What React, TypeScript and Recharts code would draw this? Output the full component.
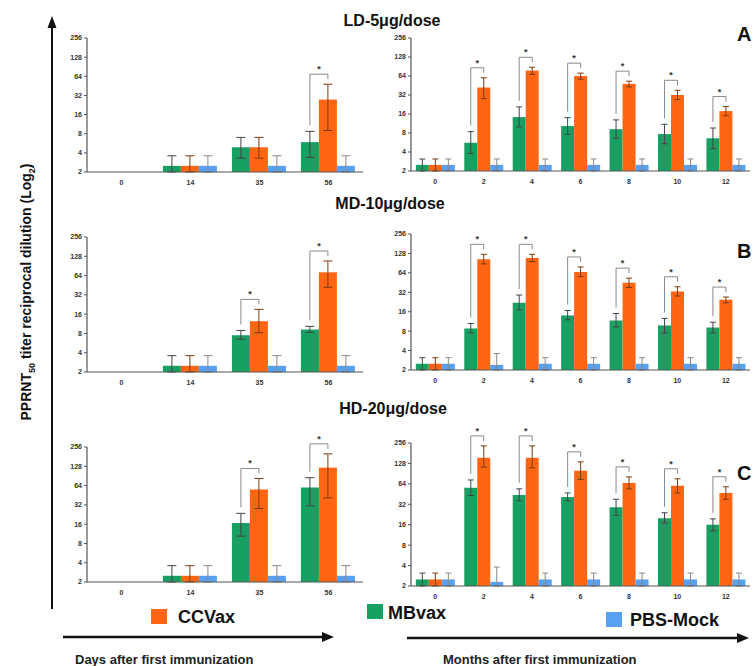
import React from 'react';
import { BarChart, Bar, XAxis, YAxis, ErrorBar } from 'recharts';

const dayCats = ['0', '14', '35', '56'];
const monthCats = ['0', '2', '4', '6', '8', '10', '12'];
const log2Ticks = [2, 4, 8, 16, 32, 64, 128, 256];

// LD-5ug/dose, days
const ldDayMB = [null, 2.5, 4.9, 5.9];
const ldDayMBErr = [null, [2, 3.6], [3.3, 7], [3.4, 8.7]];
const ldDayCC = [null, 2.5, 4.9, 27.5];
const ldDayCCErr = [null, [2, 3.6], [3.3, 7], [9, 48]];
const ldDayPBS = [null, 2.5, 2.5, 2.5];
const ldDayPBSErr = [null, [2, 3.6], [2, 3.6], [2, 3.6]];
const ldDaySig = [false, false, false, true];

// LD-5ug/dose, months
const ldMonMB = [2.5, 5.6, 14.3, 10.3, 9.2, 7.7, 6.6];
const ldMonMBErr = [[2, 3.1], [3.8, 8.4], [10, 20.7], [7.6, 14], [6.6, 12.9], [5.4, 11], [4.5, 9.6]];
const ldMonCC = [2.5, 42, 78, 64, 48, 32, 17.8];
const ldMonCCErr = [[2, 3.1], [28, 60], [68, 88], [57, 71], [43, 53], [27, 38], [15, 21]];
const ldMonPBS = [2.5, 2.5, 2.5, 2.5, 2.5, 2.5, 2.5];
const ldMonPBSErr = [[2, 3.1], [2, 3.1], [2, 3.1], [2, 3.1], [2, 3.1], [2, 3.1], [2, 3.1]];
const ldMonSig = [false, true, true, true, true, true, true];

// MD-10ug/dose, days
const mdDayMB = [null, 2.5, 7.5, 9.2];
const mdDayMBErr = [null, [2, 3.6], [6.5, 8.9], [8.3, 10.3]];
const mdDayCC = [null, 2.5, 12.4, 72];
const mdDayCCErr = [null, [2, 3.6], [8.2, 19], [42, 108]];
const mdDayPBS = [null, 2.5, 2.5, 2.5];
const mdDayPBSErr = [null, [2, 3.6], [2, 3.6], [2, 3.6]];
const mdDaySig = [false, false, true, true];

// MD-10ug/dose, months
const mdMonMB = [2.5, 8.8, 22, 14, 11.7, 9.8, 9.1];
const mdMonMBErr = [[2, 3.1], [7.5, 10.5], [17, 29], [12, 16.7], [9.3, 15], [7.5, 12.6], [7.5, 11]];
const mdMonCC = [2.5, 104, 109, 66, 45, 33, 24.6];
const mdMonCCErr = [[2, 3.1], [88, 124], [96, 124], [56, 79], [38, 53], [28, 39], [22, 27]];
const mdMonPBS = [2.5, 2.4, 2.5, 2.5, 2.5, 2.5, 2.5];
const mdMonPBSErr = [[2, 3.1], [2, 3.6], [2, 3.1], [2, 3.1], [2, 3.1], [2, 3.1], [2, 3.1]];
const mdMonSig = [false, true, true, true, true, true, true];

// HD-20ug/dose, days
const hdDayMB = [null, 2.5, 16.6, 59.6];
const hdDayMBErr = [null, [2, 3.6], [10.4, 23.6], [31, 85]];
const hdDayCC = [null, 2.5, 55.6, 122];
const hdDayCCErr = [null, [2, 3.6], [28, 82.6], [41, 200]];
const hdDayPBS = [null, 2.5, 2.5, 2.5];
const hdDayPBSErr = [null, [2, 3.6], [2, 3.6], [2, 3.6]];
const hdDaySig = [false, false, true, true];

// HD-20ug/dose, months
const hdMonMB = [2.5, 56, 44, 41, 29, 20, 16];
const hdMonMBErr = [[2, 3.1], [43, 73], [36, 54], [36, 47], [22, 38], [17, 24], [13, 19.5]];
const hdMonCC = [2.5, 155, 155, 100, 66, 60, 47];
const hdMonCCErr = [[2, 3.1], [113, 232], [110, 232], [74, 135], [54, 81], [47, 76], [38, 58]];
const hdMonPBS = [2.5, 2.3, 2.5, 2.5, 2.5, 2.5, 2.5];
const hdMonPBSErr = [[2, 3.1], [2, 3.8], [2, 3.1], [2, 3.1], [2, 3.1], [2, 3.1], [2, 3.1]];
const hdMonSig = [false, true, true, true, true, true, true];

const GREEN = '#17a062';
const ORANGE = '#ff6614';
const BLUE = '#57a0f2';
const FONT = 'Arial, "Liberation Sans", sans-serif';

const delta = (v: any, r: any) => (v == null || !r ? null : [v - r[0], r[1] - v]);

function buildRows(cats: string[], mb: any[], mbErr: any[], cc: any[], ccErr: any[], pbs: any[], pbsErr: any[], sig: boolean[]) {
  return cats.map((c, i) => ({
    cat: c,
    mb: mb[i],
    cc: cc[i],
    pbs: pbs[i],
    mbE: delta(mb[i], mbErr[i]),
    ccE: delta(cc[i], ccErr[i]),
    pbsE: delta(pbs[i], pbsErr[i]),
    mbHi: mbErr[i] ? mbErr[i][1] : null,
    ccHi: ccErr[i] ? ccErr[i][1] : null,
    sig: sig[i],
  }));
}

// orange bar + the significance bracket between green and orange
const CCShape = (props: any) => {
  const { x, y, width, height, payload, fill } = props;
  const rect = <rect x={x} y={y} width={width} height={height} fill={fill} />;
  if (!payload || !payload.sig || !(height > 0)) return rect;
  const base = y + height;
  const ppu = height / Math.log2(payload.cc / 2);
  const toY = (v: number) => base - ppu * Math.log2(v / 2);
  const top = toY(payload.ccHi) - 10;
  const lx = x - width / 2;
  const rx = x + width / 2;
  const lBottom = toY(payload.mbHi) - 6;
  return (
    <g>
      {rect}
      <path d={`M${lx},${lBottom} L${lx},${top} L${rx},${top} L${rx},${top + 5}`} stroke="#8a8a8a" strokeWidth={1} fill="none" />
      <text x={(lx + rx) / 2} y={top - 2} textAnchor="middle" fontSize={9} fontWeight="bold" fill="#333" fontFamily={FONT}>*</text>
    </g>
  );
};

type PanelProps = { rows: any[]; box: number[]; cap: number };

const Panel: React.FC<PanelProps> = ({ rows, box, cap }) => {
  const [x1, y1, x2, y2] = box;
  const width = x2 - x1 + 50;
  const height = y2 - y1 + 54;
  return (
    <div style={{ position: 'absolute', left: x1 - 45, top: y1 - 30 }}>
      <BarChart width={width} height={height} data={rows} margin={{ top: 30, right: 5, bottom: 4, left: 15 }} barGap={0} barCategoryGap="10%">
        <XAxis dataKey="cat" height={20} interval={0} tickLine={false} tickSize={6}
          axisLine={{ stroke: '#555', strokeWidth: 1.2 }}
          tick={{ fontSize: 7, fill: '#333', fontWeight: 'bold', fontFamily: FONT }} />
        <YAxis type="number" scale="log" domain={[2, 256]} ticks={log2Ticks} interval={0} width={30} tickSize={3}
          axisLine={{ stroke: '#555', strokeWidth: 1.2 }} tickLine={{ stroke: '#555' }}
          tick={{ fontSize: 7, fill: '#333', fontWeight: 'bold', fontFamily: FONT }} />
        <Bar dataKey="mb" fill={GREEN} isAnimationActive={false}>
          <ErrorBar dataKey="mbE" width={cap} stroke="#444" strokeWidth={1} />
        </Bar>
        <Bar dataKey="cc" fill={ORANGE} shape={CCShape} isAnimationActive={false}>
          <ErrorBar dataKey="ccE" width={cap} stroke="#7a3a10" strokeWidth={1} />
        </Bar>
        <Bar dataKey="pbs" fill={BLUE} isAnimationActive={false}>
          <ErrorBar dataKey="pbsE" width={cap} stroke="#888" strokeWidth={1} />
        </Bar>
      </BarChart>
    </div>
  );
};

const ldDayRows = buildRows(dayCats, ldDayMB, ldDayMBErr, ldDayCC, ldDayCCErr, ldDayPBS, ldDayPBSErr, ldDaySig);
const ldMonRows = buildRows(monthCats, ldMonMB, ldMonMBErr, ldMonCC, ldMonCCErr, ldMonPBS, ldMonPBSErr, ldMonSig);
const mdDayRows = buildRows(dayCats, mdDayMB, mdDayMBErr, mdDayCC, mdDayCCErr, mdDayPBS, mdDayPBSErr, mdDaySig);
const mdMonRows = buildRows(monthCats, mdMonMB, mdMonMBErr, mdMonCC, mdMonCCErr, mdMonPBS, mdMonPBSErr, mdMonSig);
const hdDayRows = buildRows(dayCats, hdDayMB, hdDayMBErr, hdDayCC, hdDayCCErr, hdDayPBS, hdDayPBSErr, hdDaySig);
const hdMonRows = buildRows(monthCats, hdMonMB, hdMonMBErr, hdMonCC, hdMonCCErr, hdMonPBS, hdMonPBSErr, hdMonSig);

const Overlay = () => (
  <svg width={755} height={666} style={{ position: 'absolute', left: 0, top: 0, pointerEvents: 'none' }} fontFamily={FONT}>
    {/* vertical y arrow + label */}
    <line x1={52} y1={609} x2={52} y2={26} stroke="#111" strokeWidth={2} />
    <polygon points="52,16 47.5,28 56.5,28" fill="#111" />
    <text transform="translate(31,292) rotate(-90)" textAnchor="middle" fontSize={14} fontWeight="bold" fill="#111">
      PPRNT<tspan fontSize={9} dy={4}>50</tspan><tspan dy={-4}> titer reciprocal dilution (Log</tspan><tspan fontSize={9} dy={4}>2</tspan><tspan dy={-4}>)</tspan>
    </text>

    {/* panel titles */}
    <text x={392} y={26} textAnchor="middle" fontSize={16} fontWeight="bold" fill="#111">LD-5μg/dose</text>
    <text x={390} y={209} textAnchor="middle" fontSize={16} fontWeight="bold" fill="#111">MD-10μg/dose</text>
    <text x={393} y={414} textAnchor="middle" fontSize={16} fontWeight="bold" fill="#111">HD-20μg/dose</text>

    <text x={737} y={41} fontSize={20} fontWeight="bold" fill="#111">A</text>
    <text x={737} y={258} fontSize={20} fontWeight="bold" fill="#111">B</text>
    <text x={737} y={480} fontSize={20} fontWeight="bold" fill="#111">C</text>

    {/* legend */}
    <rect x={151} y={609} width={16} height={15} fill={ORANGE} />
    <text x={178} y={623} fontSize={18} fontWeight="bold" fill="#111">CCVax</text>
    <rect x={367} y={604} width={16} height={15} fill={GREEN} />
    <text x={388} y={619} fontSize={18} fontWeight="bold" fill="#111">MBvax</text>
    <rect x={606} y={612} width={16} height={15} fill={BLUE} />
    <text x={630} y={626} fontSize={18} fontWeight="bold" fill="#111">PBS-Mock</text>

    {/* time arrows */}
    <line x1={63} y1={637} x2={324} y2={637} stroke="#111" strokeWidth={2.5} />
    <polygon points="334,637 322,632 322,642" fill="#111" />
    <line x1={407} y1={638} x2={738} y2={638} stroke="#111" strokeWidth={2.5} />
    <polygon points="749,638 737,633 737,643" fill="#111" />
    <text x={75} y={664} fontSize={13} fontWeight="bold" fill="#222">Days after first immunization</text>
    <text x={443} y={664} fontSize={13} fontWeight="bold" fill="#222">Months after first immunization</text>
  </svg>
);

export default function App() {
  return (
    <div style={{ position: 'absolute', left: 0, top: 0, width: 755, height: 666, background: '#fff', fontFamily: FONT, overflow: 'hidden' }}>
      <Panel rows={ldDayRows} box={[87, 38, 363, 172]} cap={4.5} />
      <Panel rows={ldMonRows} box={[411, 38, 750, 171]} cap={3} />
      <Panel rows={mdDayRows} box={[87, 237, 363, 372]} cap={4.5} />
      <Panel rows={mdMonRows} box={[411, 234, 750, 370]} cap={3} />
      <Panel rows={hdDayRows} box={[87, 447, 363, 582]} cap={4.5} />
      <Panel rows={hdMonRows} box={[411, 443, 750, 586]} cap={3} />
      <Overlay />
    </div>
  );
}
